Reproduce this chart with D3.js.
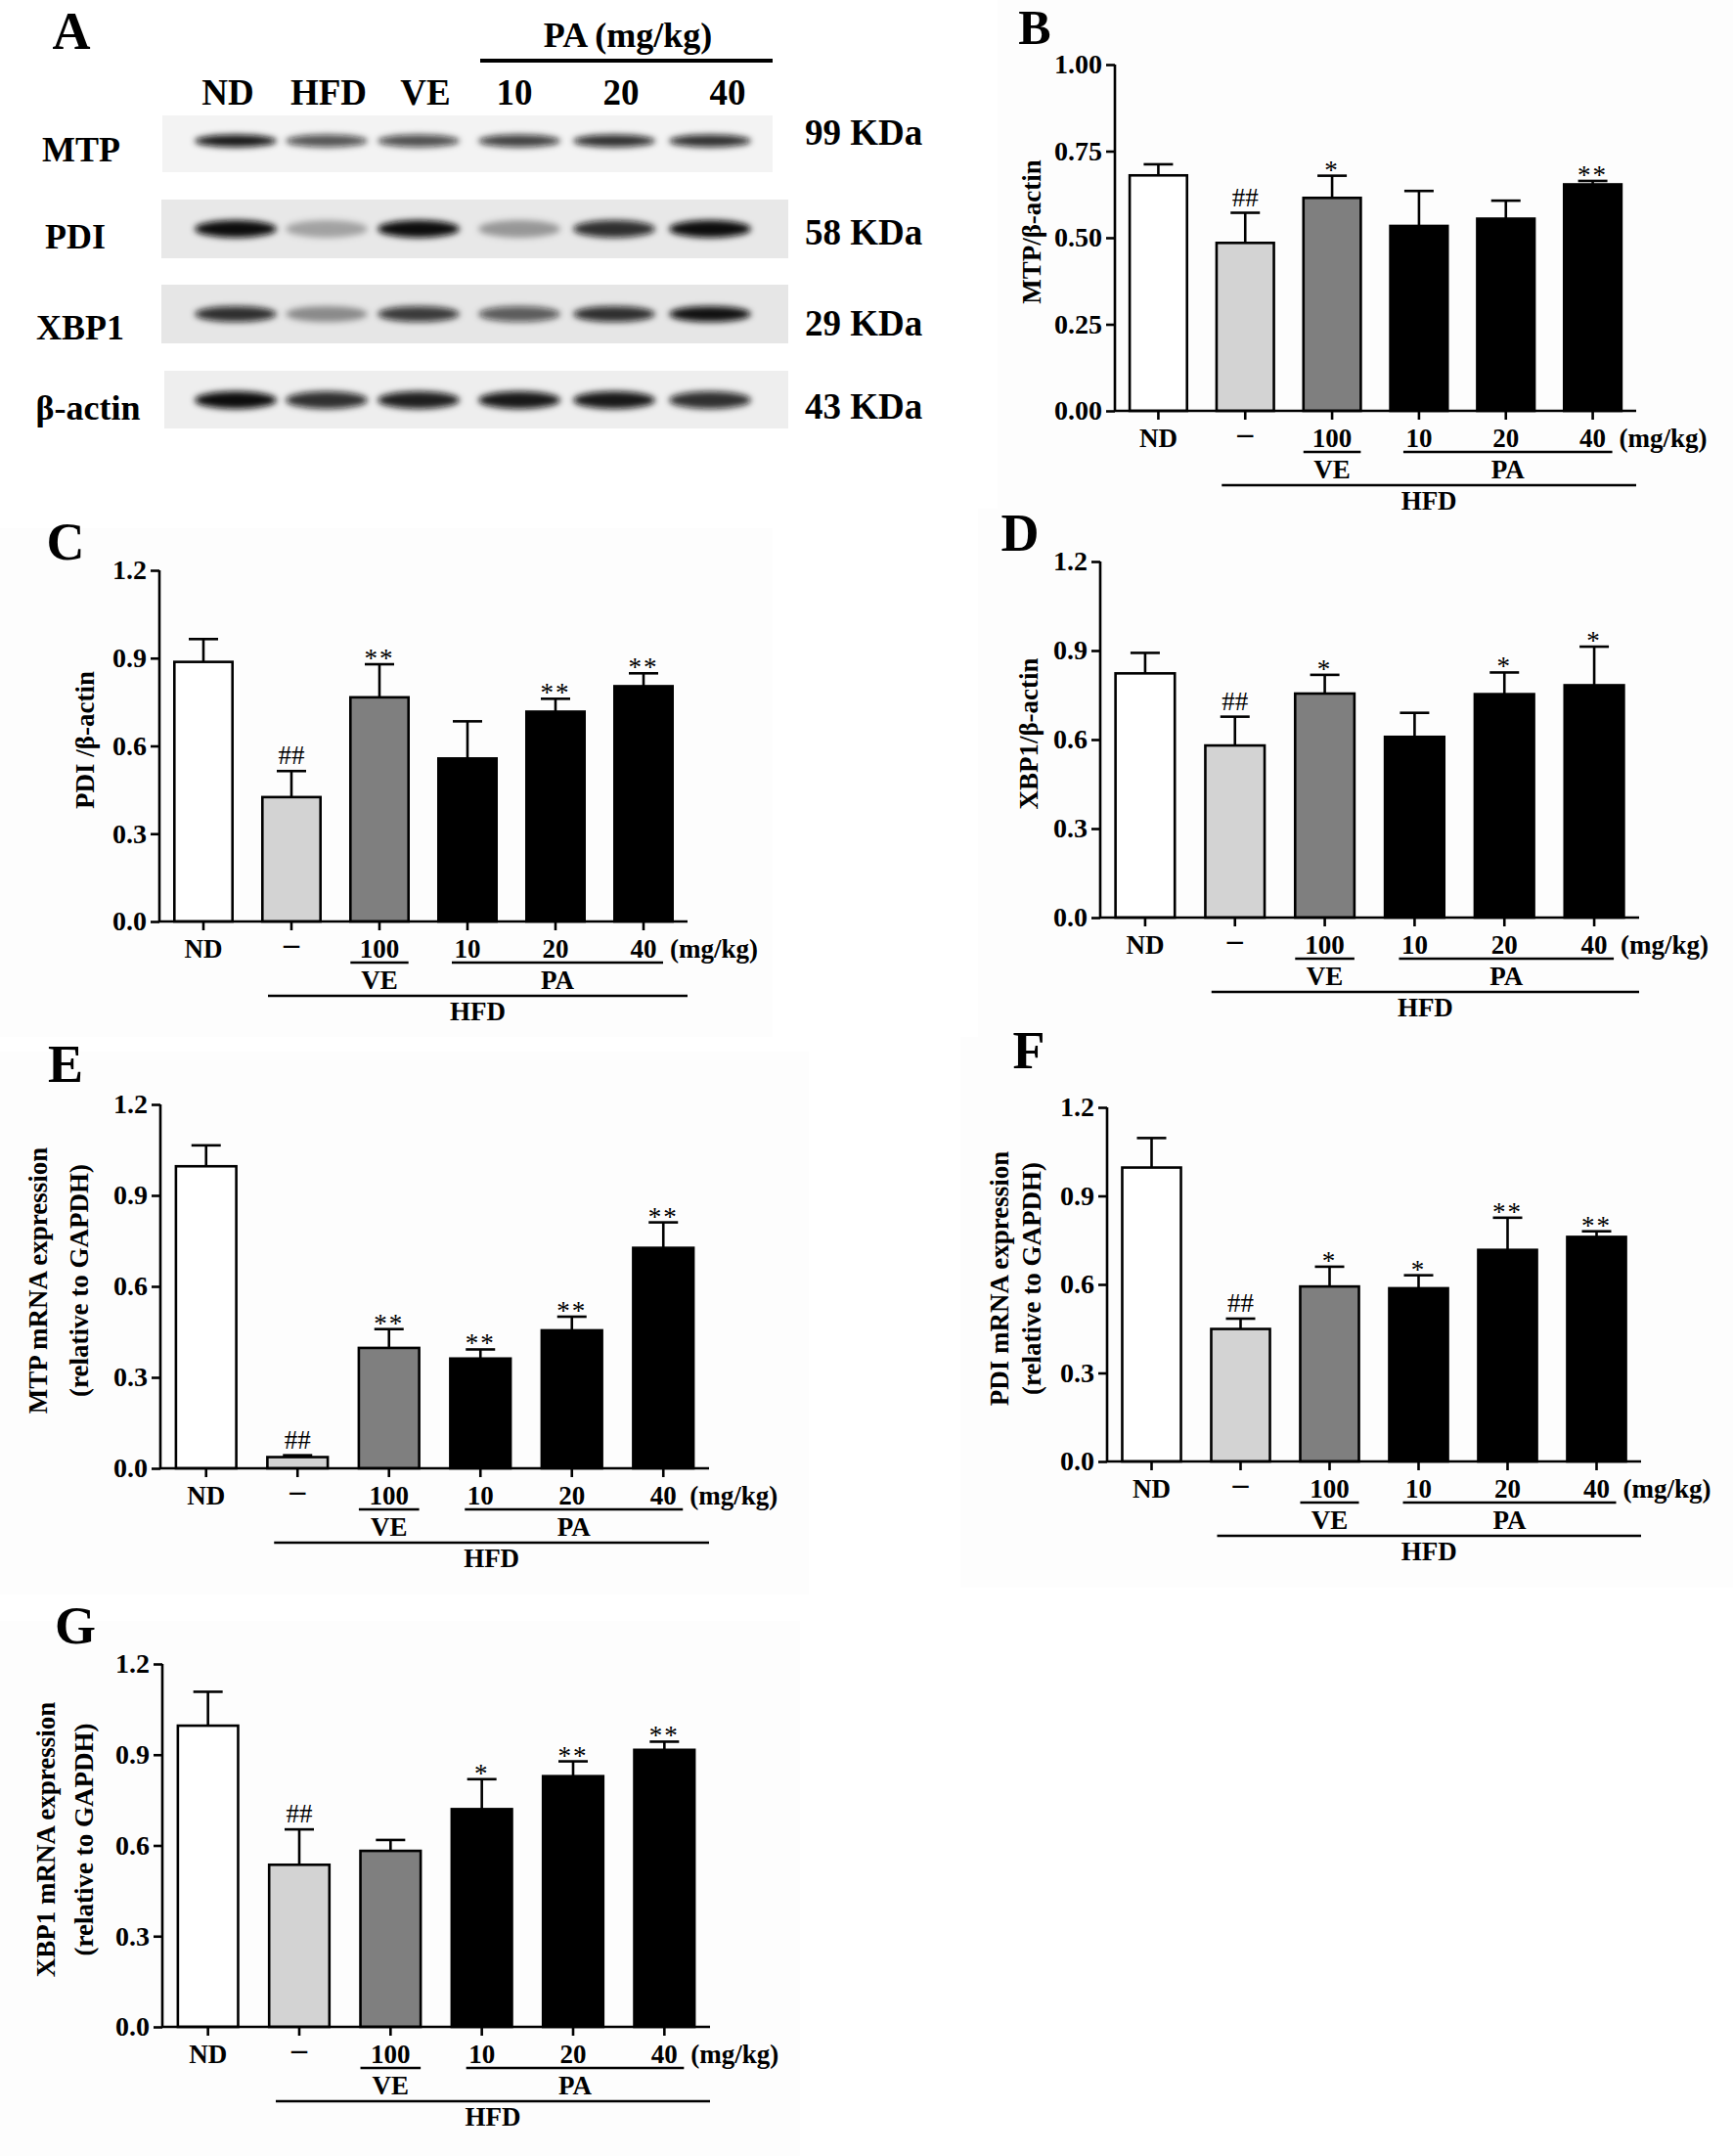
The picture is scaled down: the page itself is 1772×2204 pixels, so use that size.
<!DOCTYPE html>
<html>
<head>
<meta charset="utf-8">
<script src="https://cdn.jsdelivr.net/npm/d3@7"></script>
<style>
  body { margin: 0; background: #fff; }
  svg { display: block; font-family: 'Liberation Serif', 'Times New Roman', serif; }
</style>
</head>
<body>
<div id="chart"></div>
<script>
// groups on the x axis of every bar panel
const groups = ['ND', '–', '100', '10', '20', '40'];
const barFills = ['#ffffff', '#d3d3d3', '#7f7f7f', '#000000', '#000000', '#000000'];

// B: MTP / beta-actin
const mtpBlot = [0.680, 0.485, 0.615, 0.534, 0.555, 0.654];
const mtpBlotErr = [0.032, 0.087, 0.064, 0.101, 0.052, 0.010];
const mtpBlotSig = ['', '##', '*', '', '', '**'];
// C: PDI / beta-actin
const pdiBlot = [0.887, 0.425, 0.766, 0.557, 0.717, 0.804];
const pdiBlotErr = [0.078, 0.089, 0.113, 0.127, 0.044, 0.044];
const pdiBlotSig = ['', '##', '**', '', '**', '**'];
// D: XBP1 / beta-actin
const xbpBlot = [0.823, 0.580, 0.755, 0.609, 0.753, 0.783];
const xbpBlotErr = [0.069, 0.097, 0.063, 0.081, 0.073, 0.130];
const xbpBlotSig = ['', '##', '*', '', '*', '*'];
// E: MTP mRNA
const mtpMrna = [0.996, 0.037, 0.397, 0.362, 0.455, 0.727];
const mtpMrnaErr = [0.069, 0.006, 0.062, 0.030, 0.045, 0.084];
const mtpMrnaSig = ['', '##', '**', '**', '**', '**'];
// F: PDI mRNA
const pdiMrna = [0.996, 0.449, 0.593, 0.587, 0.717, 0.761];
const pdiMrnaErr = [0.100, 0.035, 0.067, 0.044, 0.109, 0.019];
const pdiMrnaSig = ['', '##', '*', '*', '**', '**'];
// G: XBP1 mRNA
const xbpMrna = [0.996, 0.536, 0.582, 0.720, 0.829, 0.916];
const xbpMrnaErr = [0.112, 0.117, 0.036, 0.099, 0.049, 0.027];
const xbpMrnaSig = ['', '##', '', '*', '**', '**'];

const ticksB = [0, 0.25, 0.5, 0.75, 1.0];
const ticks12 = [0, 0.3, 0.6, 0.9, 1.2];

// western blot (panel A)
const lanes = ['ND', 'HFD', 'VE', '10', '20', '40'];
const blotRows = ['MTP', 'PDI', 'XBP1', 'β-actin'];
const blotKDa = ['99 KDa', '58 KDa', '29 KDa', '43 KDa'];
const bandMTP = [0.95, 0.7, 0.72, 0.78, 0.85, 0.85];
const bandPDI = [1.0, 0.3, 1.0, 0.35, 0.85, 1.0];
const bandXBP1 = [0.85, 0.4, 0.8, 0.65, 0.85, 0.98];
const bandActin = [1.0, 0.85, 0.92, 0.95, 0.95, 0.85];

const W = 1772, H = 2204;
const FONT = "'Liberation Serif', 'Times New Roman', serif";

const svg = d3.select('#chart').append('svg')
  .attr('width', W)
  .attr('height', H)
  .attr('viewBox', [0, 0, W, H].join(' '));

svg.append('rect').attr('width', W).attr('height', H).attr('fill', '#fff');

const defs = svg.append('defs');
defs.append('filter').attr('id', 'blur')
  .attr('x', '-30%').attr('y', '-80%').attr('width', '160%').attr('height', '260%')
  .append('feGaussianBlur').attr('stdDeviation', 3.2);

// faint panel backgrounds
[[1020, 0, 752, 520], [0, 540, 790, 520], [1000, 520, 772, 540],
 [0, 1075, 827, 555], [982, 1060, 790, 563], [0, 1657, 818, 547]].forEach(([x, y, w, h]) => {
  svg.append('rect').attr('x', x).attr('y', y).attr('width', w).attr('height', h).attr('fill', '#fdfdfd');
});

// ---------- panel A: blot ----------
function drawBlot() {
  const g = svg.append('g');
  const bandX = d3.scaleOrdinal().domain(lanes).range([241, 334, 428, 531, 628, 726]);
  const laneX = d3.scaleOrdinal().domain(lanes).range([233, 336, 435, 526, 635, 744]);

  g.append('text').attr('x', 73).attr('y', 50).attr('text-anchor', 'middle')
    .style('font', `bold 54px ${FONT}`).text('A');

  g.append('text').attr('x', 642).attr('y', 48).attr('text-anchor', 'middle')
    .style('font', `bold 36px ${FONT}`).text('PA (mg/kg)');
  g.append('line').attr('x1', 491).attr('x2', 790).attr('y1', 62).attr('y2', 62)
    .attr('stroke', '#000').attr('stroke-width', 4);

  g.selectAll('text.lane').data(lanes).join('text')
    .attr('class', 'lane')
    .attr('x', (d) => laneX(d))
    .attr('y', 107)
    .attr('text-anchor', 'middle')
    .style('font', `bold 37px ${FONT}`)
    .text((d) => d);

  const rows = [
    { band: bandMTP, top: 118, h: 58, cy: 144, ry: 6.5, bg: '#f3f3f3', x0: 166, x1: 790 },
    { band: bandPDI, top: 204, h: 60, cy: 234, ry: 9, bg: '#e8e8e8', x0: 165, x1: 806 },
    { band: bandXBP1, top: 291, h: 60, cy: 321, ry: 8, bg: '#e6e6e6', x0: 165, x1: 806 },
    { band: bandActin, top: 379, h: 59, cy: 409, ry: 9, bg: '#eeeeee', x0: 168, x1: 806 },
  ];
  const labelX = [83, 77, 82, 90];
  const labelY = [165, 254, 347, 429];
  const kdaY = [148, 250, 343, 428];

  rows.forEach((r, i) => {
    g.append('rect').attr('x', r.x0).attr('y', r.top).attr('width', r.x1 - r.x0).attr('height', r.h)
      .attr('fill', r.bg);
    g.append('g').attr('filter', 'url(#blur)')
      .selectAll('ellipse').data(r.band).join('ellipse')
      .attr('cx', (d, k) => bandX(lanes[k]))
      .attr('cy', r.cy)
      .attr('rx', 42)
      .attr('ry', r.ry)
      .attr('fill', '#0a0a0a')
      .attr('opacity', (d) => d);
    g.append('text').attr('x', labelX[i]).attr('y', labelY[i]).attr('text-anchor', 'middle')
      .style('font', `bold 36px ${FONT}`).text(blotRows[i]);
    g.append('text').attr('x', 823).attr('y', kdaY[i])
      .style('font', `bold 37px ${FONT}`).text(blotKDa[i]);
  });
}

// ---------- bar panels ----------
const panels = [
  { letter: 'B', lp: [1058, 45], values: mtpBlot, errors: mtpBlotErr, sig: mtpBlotSig, yMax: 1.0, ticks: ticksB, fmt: '.2f',
    x0: 1140, x1: 1673, yTop: 66, yBot: 420, yLabel: ['MTP/β-actin'], yLabelX: [-85] },
  { letter: 'C', lp: [67, 572], values: pdiBlot, errors: pdiBlotErr, sig: pdiBlotSig, yMax: 1.2, ticks: ticks12, fmt: '.1f',
    x0: 163, x1: 703, yTop: 583, yBot: 942, yLabel: ['PDI /β-actin'], yLabelX: [-76] },
  { letter: 'D', lp: [1043, 563], values: xbpBlot, errors: xbpBlotErr, sig: xbpBlotSig, yMax: 1.2, ticks: ticks12, fmt: '.1f',
    x0: 1125, x1: 1676, yTop: 574, yBot: 938, yLabel: ['XBP1/β-actin'], yLabelX: [-73] },
  { letter: 'E', lp: [67, 1106], values: mtpMrna, errors: mtpMrnaErr, sig: mtpMrnaSig, yMax: 1.2, ticks: ticks12, fmt: '.1f',
    x0: 164, x1: 725, yTop: 1129, yBot: 1501, yLabel: ['MTP mRNA expression', '(relative to GAPDH)'], yLabelX: [-125, -83] },
  { letter: 'F', lp: [1052, 1092], values: pdiMrna, errors: pdiMrnaErr, sig: pdiMrnaSig, yMax: 1.2, ticks: ticks12, fmt: '.1f',
    x0: 1132, x1: 1678, yTop: 1132, yBot: 1494, yLabel: ['PDI mRNA expression', '(relative to GAPDH)'], yLabelX: [-110, -77] },
  { letter: 'G', lp: [77, 1680], values: xbpMrna, errors: xbpMrnaErr, sig: xbpMrnaSig, yMax: 1.2, ticks: ticks12, fmt: '.1f',
    x0: 166, x1: 726, yTop: 1701, yBot: 2072, yLabel: ['XBP1 mRNA expression', '(relative to GAPDH)'], yLabelX: [-119, -80] },
];

function drawBars(p) {
  const g = svg.append('g');
  const x = d3.scaleBand().domain(groups).range([p.x0, p.x1]).paddingInner(0.34).paddingOuter(0.17);
  const y = d3.scaleLinear().domain([0, p.yMax]).range([p.yBot, p.yTop]);
  const bw = x.bandwidth();
  const cx = (i) => x(groups[i]) + bw / 2;
  const rows = groups.map((k, i) => ({ k, i, v: p.values[i], e: p.errors[i], s: p.sig[i] }));

  g.append('text').attr('x', p.lp[0]).attr('y', p.lp[1]).attr('text-anchor', 'middle')
    .style('font', `bold ${p.letter === 'B' ? 50 : 54}px ${FONT}`).text(p.letter);

  // error bars (drawn under the bars so only the upper half shows)
  const eb = g.append('g').attr('stroke', '#000').attr('stroke-width', 2.6);
  eb.selectAll('line.v').data(rows).join('line').attr('class', 'v')
    .attr('x1', (d) => cx(d.i)).attr('x2', (d) => cx(d.i))
    .attr('y1', (d) => y(d.v)).attr('y2', (d) => y(d.v + d.e));
  eb.selectAll('line.c').data(rows).join('line').attr('class', 'c')
    .attr('x1', (d) => cx(d.i) - 15).attr('x2', (d) => cx(d.i) + 15)
    .attr('y1', (d) => y(d.v + d.e)).attr('y2', (d) => y(d.v + d.e));

  g.selectAll('rect.bar').data(rows).join('rect').attr('class', 'bar')
    .attr('x', (d) => x(d.k))
    .attr('y', (d) => y(d.v))
    .attr('width', bw)
    .attr('height', (d) => y(0) - y(d.v))
    .attr('fill', (d) => barFills[d.i])
    .attr('stroke', '#000')
    .attr('stroke-width', 2.6);

  // significance marks
  g.selectAll('text.sig').data(rows.filter((d) => d.s)).join('text').attr('class', 'sig')
    .attr('x', (d) => cx(d.i))
    .attr('y', (d) => y(d.v + d.e) + (d.s[0] === '#' ? -7 : 3))
    .attr('text-anchor', 'middle')
    .attr('letter-spacing', (d) => (d.s[0] === '*' ? 2 : 0))
    .style('font', `27px ${FONT}`)
    .text((d) => d.s);

  // y axis
  const yAxis = d3.axisLeft(y).tickValues(p.ticks).tickFormat(d3.format(p.fmt)).tickSize(9).tickPadding(4);
  const ya = g.append('g').attr('transform', `translate(${p.x0},0)`).call(yAxis);
  ya.select('.domain').attr('stroke-width', 2.6).attr('d', `M-0,${p.yBot}V${p.yTop}`);
  ya.selectAll('.tick line').attr('stroke-width', 2.6);
  ya.selectAll('.tick text').style('font', `bold 28px ${FONT}`).attr('fill', '#000');

  // x axis line with ticks at the bar centres
  g.append('line').attr('x1', p.x0).attr('x2', p.x1).attr('y1', p.yBot).attr('y2', p.yBot)
    .attr('stroke', '#000').attr('stroke-width', 2.6);
  g.selectAll('line.xt').data(rows).join('line').attr('class', 'xt')
    .attr('x1', (d) => cx(d.i)).attr('x2', (d) => cx(d.i))
    .attr('y1', p.yBot).attr('y2', p.yBot + 9)
    .attr('stroke', '#000').attr('stroke-width', 2.6);

  const lab = `bold 27px ${FONT}`;
  g.selectAll('text.cat').data(rows).join('text').attr('class', 'cat')
    .attr('x', (d) => cx(d.i))
    .attr('y', (d) => p.yBot + (d.i === 1 ? 33 : 37))
    .attr('text-anchor', 'middle')
    .style('font', (d) => (d.i === 1 ? `bold 32px ${FONT}` : lab))
    .text((d) => d.k);
  g.append('text').attr('x', cx(5) + 27).attr('y', p.yBot + 37).style('font', lab).text('(mg/kg)');

  const rule = (xa, xb, yy) => g.append('line').attr('x1', xa).attr('x2', xb).attr('y1', yy).attr('y2', yy)
    .attr('stroke', '#000').attr('stroke-width', 2.6);
  rule(cx(2) - bw / 2, cx(2) + bw / 2, p.yBot + 42);
  rule(cx(3) - 16, cx(5) + 20, p.yBot + 42);
  rule(cx(1) - 24, p.x1, p.yBot + 76);
  g.append('text').attr('x', cx(2)).attr('y', p.yBot + 69).attr('text-anchor', 'middle').style('font', lab).text('VE');
  g.append('text').attr('x', (cx(3) + cx(5)) / 2 + 2).attr('y', p.yBot + 69).attr('text-anchor', 'middle').style('font', lab).text('PA');
  g.append('text').attr('x', (cx(1) - 24 + p.x1) / 2).attr('y', p.yBot + 101).attr('text-anchor', 'middle').style('font', lab).text('HFD');

  // y axis title
  const midY = (p.yTop + p.yBot) / 2 - 6;
  p.yLabel.forEach((t, i) => {
    g.append('text')
      .attr('transform', `translate(${p.x0 + p.yLabelX[i]},${midY}) rotate(-90)`)
      .attr('text-anchor', 'middle')
      .attr('dominant-baseline', 'central')
      .style('font', `bold 27px ${FONT}`)
      .text(t);
  });
}

drawBlot();
panels.forEach(drawBars);
</script>
</body>
</html>
